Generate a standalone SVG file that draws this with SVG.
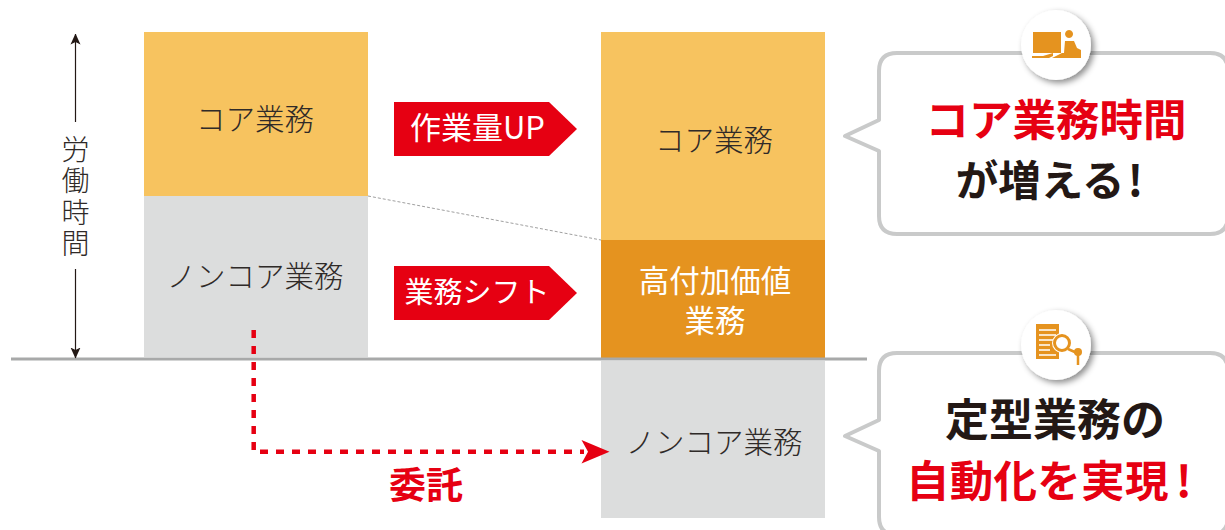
<svg xmlns="http://www.w3.org/2000/svg" width="1225" height="530" viewBox="0 0 1225 530">
<style>
text{font-family:"Noto Sans CJK JP","Noto Sans",sans-serif;}
.l{font-size:29.500px;fill:#2f2a28;font-weight:300;text-anchor:middle}
.w{font-size:30.500px;fill:#fff;text-anchor:middle}
.b{font-size:43.500px;font-weight:700;text-anchor:middle}
.r{fill:#e60012}.k{fill:#231815}
.bub{fill:#fff;stroke:#c9caca;stroke-width:4;stroke-linejoin:round}
.ic{fill:#e5931f}
.cir{fill:#fff;filter:url(#s)}
.dash{fill:none;stroke:#e60012;stroke-width:4.500;stroke-dasharray:8 8}
.ar{stroke:#231815;stroke-width:1.200}
</style>
<defs>
<filter id="s" x="-30%" y="-30%" width="170%" height="170%"><feDropShadow dx="3" dy="3" stdDeviation="3" flood-color="#000" flood-opacity=".45"/></filter>
<marker id="ah" markerUnits="userSpaceOnUse" markerWidth="11" markerHeight="12" refX="10.500" refY="6" orient="auto"><path d="M0 1 L11 6 L0 11 L2.500 6Z" fill="#231815"/></marker>
</defs>
<g id="node-core-left"><rect x="144" y="32" width="224" height="164" fill="#f7c35f"/><text class="l" x="255" y="130">コア業務</text></g>
<g id="node-noncore-left"><rect x="144" y="196" width="224" height="161" fill="#dcdddd"/><text class="l" x="255" y="287">ノンコア業務</text></g>
<g id="node-core-right"><rect x="601" y="32" width="224" height="208" fill="#f7c35f"/><text class="l" x="714" y="151">コア業務</text></g>
<g id="node-high"><rect x="601" y="240" width="224" height="118" fill="#e5931f"/><text class="w" x="715" y="292">高付加価値</text><text class="w" x="715" y="332">業務</text></g>
<g id="node-noncore-right"><rect x="601" y="361" width="224" height="157" fill="#dcdddd"/><text class="l" x="714" y="453">ノンコア業務</text></g>
<g id="node-up"><path d="M394 102H549L577 129L549 156H394Z" fill="#e60012"/><text class="w" x="477.500" y="139" style="font-size:31px">作業量UP</text></g>
<g id="node-shift"><path d="M394 266H549L577 293L549 320H394Z" fill="#e60012"/><text class="w" x="477" y="303" style="font-size:29px">業務シフト</text></g>
<g id="connectors">
<line x1="11" y1="359" x2="867" y2="359" stroke="#a8a9a9" stroke-width="3"/>
<line x1="368" y1="196" x2="601" y2="240" stroke="#a0a0a0" stroke-width="1" stroke-dasharray="3 2"/>
<line class="ar" x1="75.500" y1="122" x2="75.500" y2="34" marker-end="url(#ah)"/>
<line class="ar" x1="75.500" y1="269" x2="75.500" y2="358" marker-end="url(#ah)"/>
<line class="dash" x1="253.700" y1="330" x2="253.700" y2="450"/>
<line class="dash" x1="260" y1="451.700" x2="584" y2="451.700"/>
<path d="M581.500 440L609.500 451.700L581.500 463.500L588 451.700Z" fill="#e60012"/>
</g>
<g id="label-time"><text x="75.500" y="135" font-size="28" font-weight="300" fill="#2f2a28" letter-spacing="3.500" style="writing-mode:vertical-rl">労働時間</text></g>
<g id="label-itaku"><text x="426" y="499" font-size="37" font-weight="700" fill="#e60012" text-anchor="middle">委託</text></g>
<g id="node-callout-top">
<path class="bub" d="M897 53H1210Q1228 53 1228 71V216Q1228 234 1210 234H897Q879 234 879 216V151L845 136L879 120V71Q879 53 897 53Z"/>
<circle class="cir" cx="1056" cy="45" r="35"/>
<path class="ic" d="M1033 32H1061V53H1033ZM1069 38a4 4 0 1 1 .1 0ZM1065 41H1074L1077 48L1081 50V58H1052L1062 53L1064 53ZM1032 56H1043L1053 53V56L1049 58H1032Z"/>
<text class="b r" x="1056" y="136">コア業務時間</text>
<text class="b k" x="1049.500" y="196" style="font-size:42.500px">が増える<tspan dx="3">!</tspan></text>
</g>
<g id="node-callout-bottom">
<path class="bub" d="M897 353H1210Q1228 353 1228 371V517Q1228 535 1210 535H897Q879 535 879 517V451L845 436L879 420V371Q879 353 897 353Z"/>
<circle class="cir" cx="1056" cy="345" r="35"/>
<path class="ic" d="M1036 324H1059V359H1036Z"/>
<path d="M1039 330H1056M1039 335H1056M1039 340H1056M1039 345H1050M1039 350H1050M1039 355H1056" stroke="#fff" stroke-width="1.500"/>
<circle cx="1062" cy="343" r="10" fill="#fff"/>
<circle cx="1062" cy="343" r="7.500" fill="#fff" stroke="#e5931f" stroke-width="3"/>
<path d="M1068 349L1077 353M1078 353V365" stroke="#e5931f" stroke-width="2.500" fill="none"/><circle cx="1078" cy="352" r="4" class="ic"/>
<text class="b k" x="1055" y="436" style="font-size:44px">定型業務の</text>
<text class="b r" x="1049" y="497" letter-spacing=".3">自動化を実現<tspan dx="7">!</tspan></text>
</g>
</svg>
